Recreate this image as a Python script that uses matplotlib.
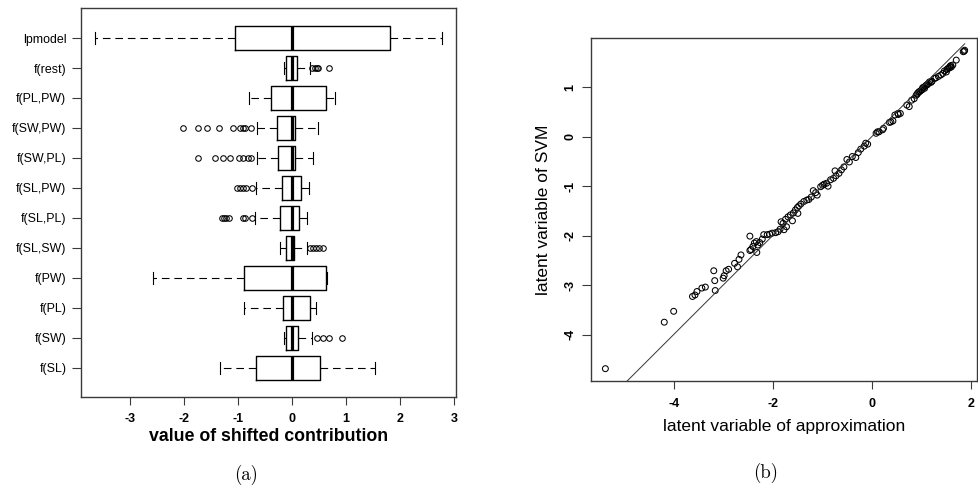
import matplotlib
matplotlib.use('Agg')
import matplotlib.pyplot as plt

plt.rcParams['font.family'] = ['Liberation Sans', 'DejaVu Sans']
plt.rcParams['lines.scale_dashes'] = False

# ---- panel (a): boxplots of shifted contributions (top to bottom) ----
labels = ["lpmodel", "f(rest)", "f(PL,PW)", "f(SW,PW)", "f(SW,PL)", "f(SL,PW)",
          "f(SL,PL)", "f(SL,SW)", "f(PW)", "f(PL)", "f(SW)", "f(SL)"]
whislo = [-3.64, -0.14, -0.79, -0.64, -0.65, -0.66, -0.68, -0.22, -2.56, -0.88, -0.15, -1.33]
q1 = [-1.06, -0.10, -0.39, -0.27, -0.25, -0.19, -0.21, -0.10, -0.88, -0.17, -0.11, -0.67]
med = [0.0, 0.0, 0.0, 0.01, 0.0, 0.0, 0.0, 0.0, 0.0, 0.0, 0.0, 0.0]
q3 = [1.82, 0.09, 0.64, 0.05, 0.06, 0.17, 0.14, 0.04, 0.64, 0.33, 0.12, 0.53]
whishi = [2.77, 0.33, 0.79, 0.49, 0.40, 0.31, 0.29, 0.28, 0.66, 0.44, 0.37, 1.54]
outliers = [
    [],
    [0.37, 0.43, 0.46, 0.49, 0.69],
    [],
    [-2.02, -1.73, -1.56, -1.34, -1.08, -0.96, -0.90, -0.86, -0.75],
    [-1.73, -1.42, -1.28, -1.14, -0.97, -0.91, -0.81, -0.76],
    [-1.01, -0.96, -0.90, -0.84, -0.73],
    [-1.30, -1.26, -1.22, -1.16, -0.91, -0.86, -0.73],
    [0.34, 0.40, 0.45, 0.51, 0.57],
    [],
    [],
    [0.46, 0.57, 0.69, 0.92],
    [],
]
xticks_a = [-3, -2, -1, 0, 1, 2, 3]

# ---- panel (b): latent variable of approximation vs SVM ----
approx_x = [-5.38, -4.19, -4.00, -3.62, -3.57, -3.53, -3.43, -3.36, -3.19, -3.17,
            -3.16, -3.00, -2.98, -2.94, -2.89, -2.77, -2.71, -2.68, -2.64, -2.46,
            -2.46, -2.44, -2.40, -2.37, -2.33, -2.30, -2.26, -2.32, -2.21, -2.18,
            -2.11, -2.06, -2.01, -1.94, -1.89, -1.85, -1.83, -1.77, -1.72, -1.60,
            -1.49, -1.79, -1.74, -1.69, -1.64, -1.58, -1.54, -1.50, -1.47, -1.43,
            -1.37, -1.31, -1.27, -1.22, -1.18, -1.13, -1.10, -1.03, -0.99, -0.96,
            -0.91, -0.88, -0.83, -0.77, -0.74, -0.72, -0.66, -0.61, -0.56, -0.50,
            -0.45, -0.39, -0.32, -0.27, -0.22, -0.15, -0.08, -0.12, 0.09, 0.12,
            0.15, 0.22, 0.24, 0.36, 0.39, 0.43, 0.47, 0.53, 0.54, 0.58,
            0.71, 0.76, 0.81, 0.86, 0.90, 0.92, 0.93, 0.95, 0.96, 0.98,
            1.00, 1.02, 1.03, 1.05, 1.07, 1.08, 1.10, 1.12, 1.13, 1.15,
            1.17, 1.20, 1.22, 1.27, 1.30, 1.35, 1.40, 1.44, 1.47, 1.51,
            1.52, 1.54, 1.57, 1.58, 1.60, 1.61, 1.64, 1.71, 1.85, 1.87, 1.88]
svm_y = [-4.69, -3.75, -3.53, -3.23, -3.20, -3.13, -3.06, -3.04, -2.71, -2.91,
         -3.11, -2.86, -2.81, -2.71, -2.68, -2.56, -2.63, -2.48, -2.39, -2.01,
         -2.30, -2.28, -2.22, -2.15, -2.12, -2.19, -2.14, -2.34, -2.07, -1.98,
         -1.98, -1.97, -1.95, -1.94, -1.92, -1.87, -1.72, -1.88, -1.82, -1.70,
         -1.55, -1.75, -1.67, -1.62, -1.58, -1.54, -1.48, -1.43, -1.40, -1.36,
         -1.31, -1.28, -1.27, -1.22, -1.09, -1.13, -1.18, -1.01, -0.98, -0.96,
         -0.94, -1.00, -0.87, -0.84, -0.69, -0.79, -0.74, -0.67, -0.61, -0.46,
         -0.51, -0.40, -0.42, -0.32, -0.25, -0.19, -0.15, -0.13, 0.07, 0.10,
         0.10, 0.14, 0.17, 0.29, 0.30, 0.32, 0.44, 0.47, 0.45, 0.47,
         0.64, 0.61, 0.74, 0.77, 0.84, 0.86, 0.88, 0.90, 0.91, 0.92,
         0.94, 0.95, 0.99, 1.00, 0.98, 1.02, 1.04, 1.05, 1.06, 1.08,
         1.11, 1.10, 1.12, 1.18, 1.19, 1.22, 1.25, 1.28, 1.33, 1.31,
         1.36, 1.38, 1.39, 1.42, 1.44, 1.41, 1.45, 1.55, 1.72, 1.73, 1.75]
ref_x = [-5.38, 1.88]
ref_y = [-5.38, 1.88]
xticks_b = [-4, -2, 0, 2]
yticks_b = [-4, -3, -2, -1, 0, 1]

fig = plt.figure(figsize=(9.79, 4.86), dpi=100)
spine_col = '#3a3a3a'

# ---------------- panel (a) ----------------
ax1 = fig.add_axes([0.0827, 0.1831, 0.3827, 0.8004])
n = len(labels)
positions = list(range(n, 0, -1))
stats = []
for i in range(n):
    stats.append(dict(whislo=whislo[i], q1=q1[i], med=med[i], q3=q3[i],
                      whishi=whishi[i], fliers=outliers[i]))
ax1.bxp(stats, positions=positions, orientation='horizontal', widths=0.8,
        capwidths=0.4, showfliers=True, patch_artist=False,
        boxprops=dict(color='black', linewidth=1.0),
        medianprops=dict(color='black', linewidth=2.3, solid_capstyle='butt'),
        whiskerprops=dict(color='black', linewidth=0.8, linestyle=(0, (5.5, 3.5))),
        capprops=dict(color='black', linewidth=0.8),
        flierprops=dict(marker='o', markersize=4.0, markerfacecolor='none',
                        markeredgecolor='black', markeredgewidth=0.75))
ax1.set_xlim(-3.90, 3.03)
ax1.set_ylim(0.03, 13.0)
ax1.set_xticks(xticks_a)
ax1.set_xticklabels([str(t) for t in xticks_a], fontsize=9, fontweight='bold')
ax1.set_yticks(positions)
ax1.set_yticklabels(labels, fontsize=8.9)
ax1.tick_params(axis='x', length=5.5, width=0.8, pad=6, color=spine_col)
ax1.tick_params(axis='y', length=6.5, width=0.8, pad=4, color=spine_col)
ax1.set_xlabel('value of shifted contribution', fontsize=12.8, fontweight='bold', labelpad=2)
for s in ax1.spines.values():
    s.set_color(spine_col)
    s.set_linewidth(1.0)

# ---------------- panel (b) ----------------
ax2 = fig.add_axes([0.6037, 0.216, 0.3938, 0.7051])
ax2.plot(ref_x, ref_y, color='#333333', linewidth=0.7)
ax2.scatter(approx_x, svm_y, s=18, facecolors='none', edgecolors='black', linewidths=0.75)
ax2.set_xlim(-5.67, 2.12)
ax2.set_ylim(-4.94, 1.99)
ax2.set_xticks(xticks_b)
ax2.set_xticklabels([str(t) for t in xticks_b], fontsize=9, fontweight='bold')
ax2.set_yticks(yticks_b)
ax2.set_yticklabels([str(t) for t in yticks_b], fontsize=9, fontweight='bold',
                    rotation=90, va='center')
ax2.tick_params(axis='x', length=6, width=0.8, pad=6, color=spine_col)
ax2.tick_params(axis='y', length=6.5, width=0.8, pad=4, color=spine_col)
ax2.set_xlabel('latent variable of approximation', fontsize=12.5, labelpad=7)
ax2.set_ylabel('latent variable of SVM', fontsize=12.5, labelpad=10)
for s in ax2.spines.values():
    s.set_color(spine_col)
    s.set_linewidth(1.0)

# sub-figure captions
fig.text(0.2513, 0.0226, '(a)', fontsize=13.5, family='cmr10', ha='center', va='center')
fig.text(0.7824, 0.0267, '(b)', fontsize=13.5, family='cmr10', ha='center', va='center')

fig.savefig('out.png', dpi=100)
